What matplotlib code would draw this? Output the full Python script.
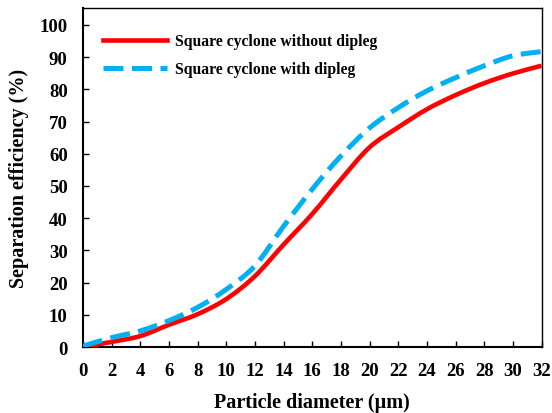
import numpy as np
import matplotlib
matplotlib.use("Agg")
import matplotlib.pyplot as plt
from matplotlib.path import Path
from matplotlib.patches import PathPatch
from matplotlib.lines import Line2D

plt.rcParams['font.family'] = ['Liberation Serif', 'DejaVu Serif']
plt.rcParams['font.weight'] = 'bold'

diameter = [0, 2, 4, 6, 8, 10, 12, 14, 16, 18, 20, 22, 24, 26, 28, 30, 32]
eff_no_dipleg = [0, 1.6, 3.4, 6.9, 10.2, 14.9, 22.0, 31.8, 41.3, 52.0, 62.0, 68.2, 73.8, 78.2, 81.9, 84.9, 87.3]
eff_dipleg = [0.3, 2.9, 5.0, 8.2, 12.3, 17.9, 25.2, 37.5, 49.0, 59.3, 68.0, 74.3, 79.5, 83.6, 87.3, 90.4, 91.7]

labels = ["Square cyclone without dipleg", "Square cyclone with dipleg"]
colors = ["#FF0000", "#00B0F0"]
dash = (0, (4.0, 1.7))


def smooth_path(x, y, tension=1 / 6):
    # Catmull-Rom style cubic segments, like a spreadsheet "smoothed line"
    x = np.asarray(x, float)
    y = np.asarray(y, float)
    pts = np.column_stack([x, y])
    verts = [pts[0]]
    codes = [Path.MOVETO]
    n = len(pts)
    for i in range(n - 1):
        p0 = pts[i - 1] if i > 0 else pts[i]
        p1 = pts[i]
        p2 = pts[i + 1]
        p3 = pts[i + 2] if i + 2 < n else pts[i + 1]
        c1 = p1 + (p2 - p0) * tension
        c2 = p2 - (p3 - p1) * tension
        verts += [c1, c2, p2]
        codes += [Path.CURVE4] * 3
    return Path(verts, codes)


fig = plt.figure(figsize=(5.52, 4.14), dpi=100)
ax = fig.add_axes([0.1504, 0.1594, 0.8306, 0.8186])

ax.add_patch(PathPatch(smooth_path(diameter, eff_no_dipleg), fill=False,
                       edgecolor=colors[0], lw=3.3, capstyle='butt', zorder=3))
ax.add_patch(PathPatch(smooth_path(diameter, eff_dipleg), fill=False,
                       edgecolor=colors[1], lw=3.6, linestyle=dash,
                       capstyle='butt', zorder=3))

ax.set_xlim(0, 32)
ax.set_ylim(0, 105.2)
ax.set_xticks(np.arange(0, 33, 2))
ax.set_yticks(np.arange(0, 101, 10))
ax.tick_params(direction='in', length=4, width=1, labelsize=13.5, pad=11)
for lab in ax.get_xticklabels() + ax.get_yticklabels():
    lab.set_fontweight('bold')

for side in ['left', 'bottom']:
    ax.spines[side].set_linewidth(1.5)
for side in ['top', 'right']:
    ax.spines[side].set_linewidth(1.0)

ax.set_xlabel("Particle diameter (\u00b5m)", fontsize=14.5, fontweight='bold', labelpad=9)
ax.set_ylabel("Separation efficiency (%)", fontsize=14.5, fontweight='bold', labelpad=8)

handles = [
    Line2D([], [], color=colors[0], lw=3.3),
    Line2D([], [], color=colors[1], lw=3.6, linestyle=dash),
]
ax.legend(handles, labels, loc='upper left', frameon=False,
          handlelength=4.1, handletextpad=0.5, labelspacing=0.75,
          bbox_to_anchor=(0.012, 0.967), prop={'weight': 'bold', 'size': 11.3})

fig.savefig("out.png", dpi=100)
